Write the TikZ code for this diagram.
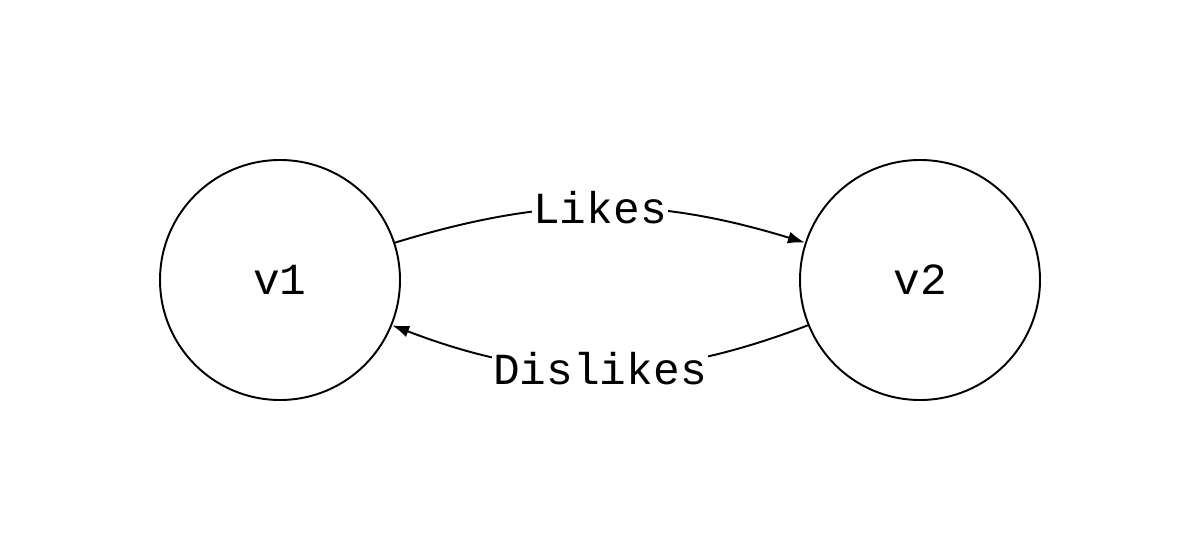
\documentclass[tikz,border=0pt]{standalone}
\usepackage{fontspec}
\setmonofont{Liberation Mono}
\usetikzlibrary{arrows.meta}
\tikzset{
  vertex/.style={draw, circle, line width=1.1pt, minimum size=4.8cm, inner sep=0pt, font=\ttfamily\fontsize{25.3}{30}\selectfont},
  rel/.style={line width=1.1pt, -{Latex[length=0.34cm,width=0.24cm]}},
  rellabel/.style={fill=white, inner sep=1pt, font=\ttfamily\fontsize{25.3}{30}\selectfont}
}

\begin{document}
\begin{tikzpicture}
    \useasboundingbox (0,0) rectangle (23.96,11.16);
    \node[vertex] (v1) at (5.6,5.56) {v1};
    \node[vertex] (v2) at (18.4,5.56) {v2};
    \draw[rel] (v1.18) to[bend left=17] node[rellabel] (likes) {Likes} (v2.162);
    \draw[rel] (v2.202) to[bend left=21] node[rellabel] (dislikes) {Dislikes} (v1.338);
  \end{tikzpicture}
\end{document}
